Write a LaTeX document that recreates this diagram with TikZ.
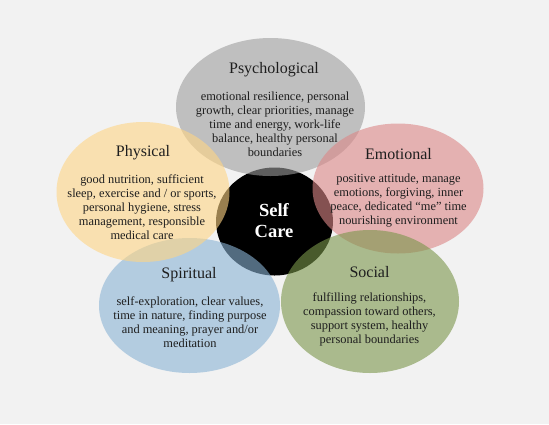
\documentclass[tikz,border=0pt]{standalone}
\usepackage{fontspec}
\setmainfont{Liberation Serif}
\usetikzlibrary{shapes.geometric}
\definecolor{bgc}{HTML}{F2F2F2}
\definecolor{psyc}{HTML}{9D9D9D}
\definecolor{phyc}{HTML}{FFD584}
\definecolor{emoc}{HTML}{DC8787}
\definecolor{spic}{HTML}{8AB3D5}
\definecolor{socc}{HTML}{7A964A}
\definecolor{txtc}{HTML}{1E1E1E}
\tikzset{
  petal/.style={ellipse, inner sep=0pt, fill opacity=0.6, draw=none},
  ttl/.style={font=\fontsize{16}{18}\selectfont, text=txtc},
  body/.style={font=\fontsize{12.4}{14}\selectfont, text=txtc, align=center},
}
\begin{document}
\begin{tikzpicture}[x=1pt,y=-1pt]
\fill[bgc] (0,0) rectangle (549,424);
\useasboundingbox (0,0) rectangle (549,424);
\node[ellipse, inner sep=0pt, fill=black, minimum width=117pt, minimum height=108pt] (core) at (274.5,221.5) {};
\node[petal, fill=psyc, minimum width=189pt, minimum height=138pt] (psy) at (270.5,107) {};
\node[petal, fill=emoc, minimum width=171pt, minimum height=130pt] (emo) at (398,188.5) {};
\node[petal, fill=socc, minimum width=178pt, minimum height=143pt] (soc) at (370,301.5) {};
\node[petal, fill=spic, minimum width=181pt, minimum height=135pt] (spi) at (189.5,305.5) {};
\node[petal, fill=phyc, minimum width=173pt, minimum height=140pt] (phy) at (143,192) {};

\node[font=\fontsize{18.5}{21}\selectfont\bfseries, text=white, align=center] (self) at (274,220.5) {Self\\Care};

\node[ttl] (psyt) at (274,70) {Psychological};
\node[body] (psyb) at (275,124) {emotional resilience, personal\\growth, clear priorities, manage\\time and energy, work-life\\balance, healthy personal\\boundaries};

\node[ttl] (phyt) at (143,153) {Physical};
\node[body] (phyb) at (142,206.7) {good nutrition, sufficient\\sleep, exercise and / or sports,\\personal hygiene, stress\\management, responsible\\medical care};

\node[ttl] (emot) at (398.5,154) {Emotional};
\node[body] (emob) at (398.5,201) {positive attitude, manage\\emotions, forgiving, inner\\peace, dedicated “me” time\\nourishing environment};

\node[ttl] (spit) at (189,275) {Spiritual};
\node[body] (spib) at (190,322) {self-exploration, clear values,\\time in nature, finding purpose\\and meaning, prayer and/or\\meditation};

\node[ttl] (soct) at (369.5,272) {Social};
\node[body] (socb) at (369.5,319) {fulfilling relationships,\\compassion toward others,\\support system, healthy\\personal boundaries};
\end{tikzpicture}
\end{document}
